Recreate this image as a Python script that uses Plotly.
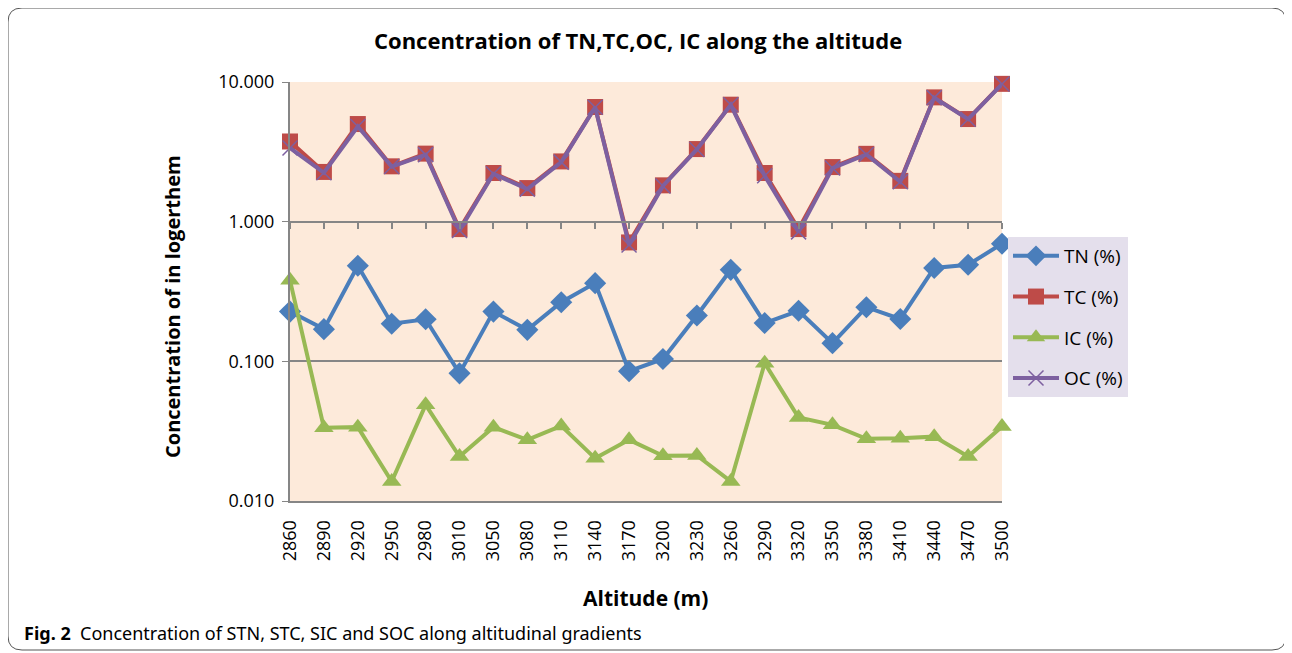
import plotly.graph_objects as go

altitude = ['2860', '2890', '2920', '2950', '2980', '3010', '3050', '3080', '3110', '3140', '3170',
            '3200', '3230', '3260', '3290', '3320', '3350', '3380', '3410', '3440', '3470', '3500']

tn = [0.227, 0.170, 0.483, 0.186, 0.200, 0.082, 0.227, 0.168, 0.265, 0.363, 0.085,
      0.104, 0.213, 0.452, 0.188, 0.230, 0.135, 0.244, 0.201, 0.466, 0.491, 0.695]
tc = [3.75, 2.27, 5.00, 2.49, 3.07, 0.885, 2.23, 1.74, 2.70, 6.62, 0.71,
      1.82, 3.31, 6.88, 2.23, 0.885, 2.46, 3.06, 1.96, 7.76, 5.43, 9.70]
ic = [0.380, 0.0335, 0.0338, 0.0138, 0.0488, 0.0208, 0.0338, 0.0274, 0.0345, 0.0202, 0.0274,
      0.0211, 0.0212, 0.0138, 0.097, 0.0396, 0.0351, 0.0279, 0.0281, 0.0289, 0.0208, 0.0341]
oc = [3.37, 2.24, 4.80, 2.48, 3.02, 0.864, 2.20, 1.71, 2.67, 6.60, 0.68,
      1.80, 3.29, 6.87, 2.13, 0.845, 2.42, 3.03, 1.93, 7.73, 5.41, 9.67]

y_tickvals = [0.01, 0.1, 1, 10]
y_ticktext = ['0.010', '0.100', '1.000', '10.000']

W, H = 1292, 653
OFF = 8                            # page body margin of the html file
L, R, T, B = 290, 1002, 82, 501    # plot area, in window pixels


def px(x):
    return (x - L) / (R - L)


def py(y):
    return (B - y) / (B - T)


grid = '#868686'
font = 'Open Sans'

fig = go.Figure()

series = [
    ('TN (%)', tn, '#4A7EBB', dict(symbol='diamond', size=17)),
    ('TC (%)', tc, '#BE4B48', dict(symbol='square', size=16)),
    ('IC (%)', ic, '#98B954', dict(symbol='triangle-up', size=17)),
    ('OC (%)', oc, '#7D60A0', dict(symbol='x-thin', size=15, line=dict(width=1.5, color='#7D60A0'))),
]
for name, vals, col, mk in series:
    mk = dict(mk, color=col)
    fig.add_trace(go.Scatter(x=altitude, y=vals, name=name, mode='lines+markers',
                             line=dict(color=col, width=4), marker=mk,
                             cliponaxis=False, legendgroup=name))

# invisible trace so the crossing axis at 1.000 gets drawn
fig.add_trace(go.Scatter(x=altitude, y=[1] * len(altitude), xaxis='x2', mode='lines',
                         line=dict(width=0), showlegend=False, hoverinfo='skip'))

fig.update_layout(
    width=W - OFF, height=H - OFF,
    margin=dict(l=L - OFF, r=W - R, t=T - OFF, b=H - B, autoexpand=False),
    paper_bgcolor='white',
    plot_bgcolor='#FDEADA',
    font=dict(family=font, color='#000000', size=17),
    showlegend=True,
    legend=dict(x=px(1008), y=py(237), xanchor='left', yanchor='top',
                bgcolor='#E4DFEC', font=dict(size=19), tracegroupgap=13,
                traceorder='grouped', itemwidth=46),
    xaxis=dict(type='category', range=[0, len(altitude) - 1], showgrid=False,
               showline=True, linecolor=grid, linewidth=2, mirror=False,
               ticks='', tickangle=-90, tickfont=dict(size=18),
               ticklabelstandoff=10, zeroline=False),
    xaxis2=dict(type='category', range=[0, len(altitude) - 1], overlaying='x',
                anchor='free', position=py(222), side='bottom', showgrid=False,
                showline=True, linecolor=grid, linewidth=2, ticks='outside',
                ticklen=6, tickcolor=grid, tickwidth=1.5, showticklabels=False),
    yaxis=dict(type='log', range=[-2, 1], tickvals=y_tickvals, ticktext=y_ticktext,
               showgrid=True, gridcolor=grid, gridwidth=2, showline=True,
               linecolor=grid, linewidth=2, ticks='outside', ticklen=6, tickcolor=grid,
               tickfont=dict(size=18), ticklabelstandoff=4, zeroline=False),
)

fig.add_annotation(text='<b>Concentration of TN,TC,OC, IC along the altitude</b>',
                   xref='paper', yref='paper', x=px(638), y=py(40), showarrow=False,
                   font=dict(size=22), xanchor='center', yanchor='middle')
fig.add_annotation(text='<b>Concentration of in logerthem</b>', textangle=-90,
                   xref='paper', yref='paper', x=px(172), y=py(307), showarrow=False,
                   font=dict(size=20), xanchor='center', yanchor='middle')
fig.add_annotation(text='<b>Altitude (m)</b>',
                   xref='paper', yref='paper', x=px(645), y=py(598), showarrow=False,
                   font=dict(size=21), xanchor='center', yanchor='middle')
fig.add_annotation(text='<b>Fig. 2</b>  Concentration of STN, STC, SIC and SOC along altitudinal gradients',
                   xref='paper', yref='paper', x=px(22), y=py(633), showarrow=False,
                   font=dict(size=18, family='Noto Sans'), xanchor='left', yanchor='middle')

# rounded outer frame
x0, x1, y0, y1, r = px(8), px(1286), py(8), py(650), 14
rx, ry = r / (R - L), r / (B - T)
path = (f'M {x0 + rx},{y0} L {x1 - rx},{y0} Q {x1},{y0} {x1},{y0 - ry} '
        f'L {x1},{y1 + ry} Q {x1},{y1} {x1 - rx},{y1} L {x0 + rx},{y1} '
        f'Q {x0},{y1} {x0},{y1 + ry} L {x0},{y0 - ry} Q {x0},{y0} {x0 + rx},{y0} Z')
fig.add_shape(type='path', path=path, xref='paper', yref='paper',
              line=dict(color='#555555', width=1))

fig.write_html('out.html')
